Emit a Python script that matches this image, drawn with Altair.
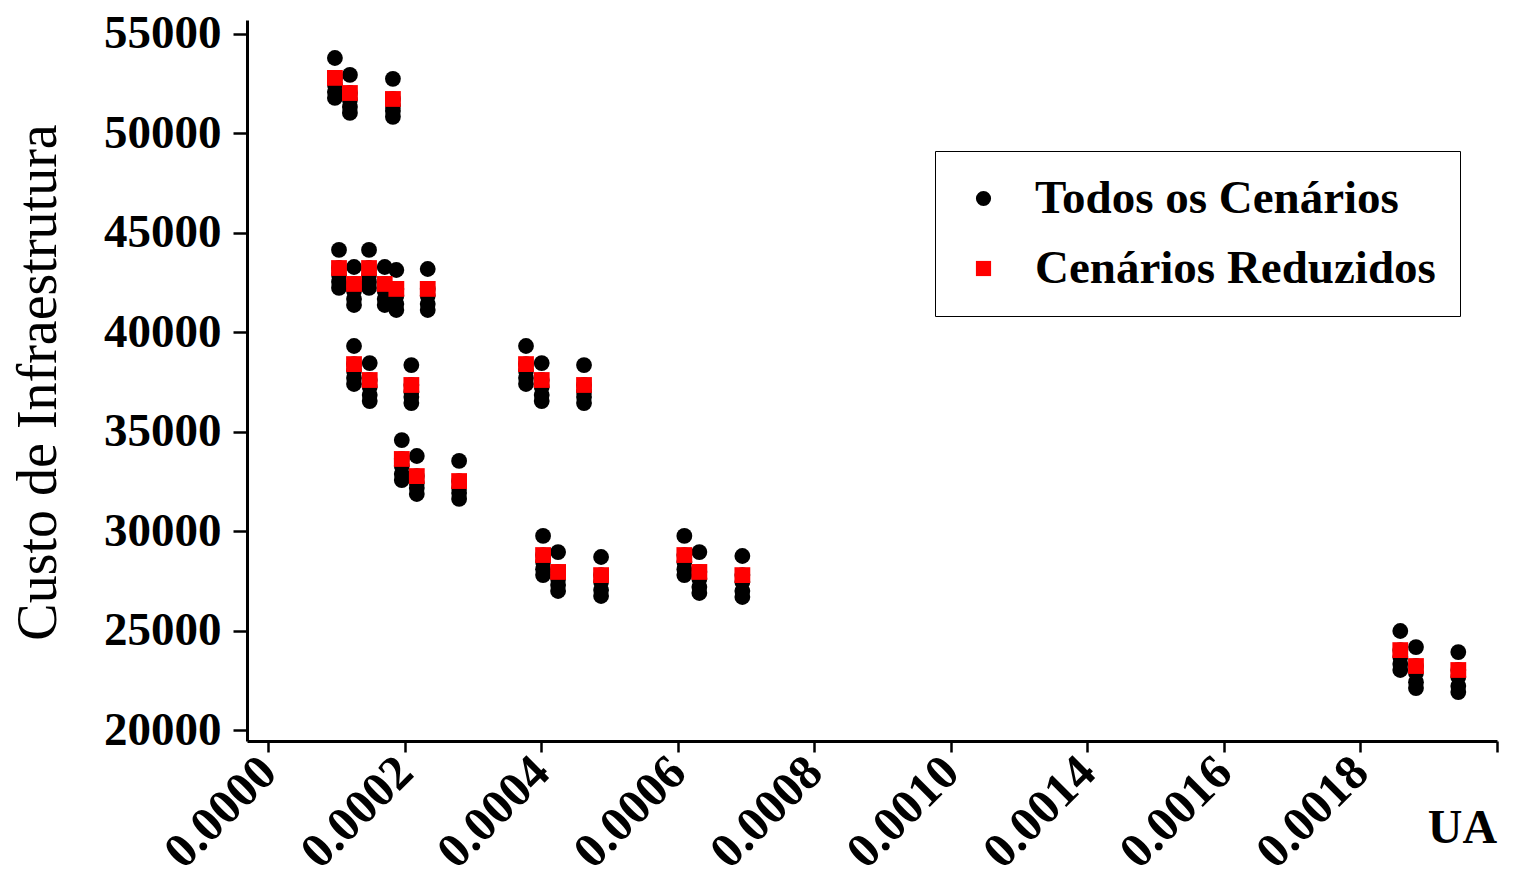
import altair as alt
import pandas as pd

SERIES = ["Todos os Cenários", "Cenários Reduzidos"]

# UA value of each cluster (actual axis value, axis has a break at 0.0012)
ua = [0.000098, 0.000120, 0.000183,
      0.000104, 0.000126, 0.000188,
      0.000148, 0.000171, 0.000234,
      0.000126, 0.000149, 0.000210,
      0.000196, 0.000218, 0.000280,
      0.000378, 0.000401, 0.000463,
      0.000403, 0.000425, 0.000488,
      0.000610, 0.000632, 0.000695,
      0.001859, 0.001882, 0.001944]

# infrastructure cost of the reduced scenario in each cluster (red squares)
reduzidos = [52790, 52030, 51730,
             43230, 42430, 42180,
             43230, 42430, 42180,
             38400, 37600, 37350,
             33630, 32770, 32520,
             38400, 37600, 37350,
             28800, 27950, 27790,
             28800, 27950, 27790,
             24020, 23220, 23020]

# infrastructure cost of all scenarios in each cluster (black dots)
todos = [[53790, 52790, 52440, 52080, 51780],
         [52940, 52030, 51680, 51330, 51030],
         [52740, 51730, 51380, 51130, 50830],
         [44140, 43230, 42880, 42530, 42230],
         [43280, 42430, 42080, 41670, 41370],
         [43130, 42180, 41830, 41420, 41120],
         [44140, 43230, 42880, 42530, 42230],
         [43280, 42430, 42080, 41670, 41370],
         [43180, 42180, 41830, 41420, 41120],
         [39310, 38400, 38050, 37700, 37400],
         [38450, 37600, 37250, 36840, 36540],
         [38350, 37350, 37000, 36740, 36440],
         [34580, 33630, 33280, 32870, 32570],
         [33780, 32770, 32420, 32170, 31870],
         [33530, 32520, 32170, 31920, 31620],
         [39310, 38400, 38050, 37700, 37400],
         [38450, 37600, 37250, 36840, 36540],
         [38350, 37350, 37000, 36740, 36440],
         [29760, 28800, 28450, 28090, 27790],
         [28950, 27950, 27600, 27290, 26990],
         [28700, 27790, 27440, 27040, 26740],
         [29760, 28800, 28450, 28090, 27790],
         [28950, 27950, 27600, 27190, 26890],
         [28750, 27790, 27440, 26990, 26690],
         [24980, 24020, 23670, 23320, 23020],
         [24170, 23220, 22870, 22410, 22110],
         [23920, 23020, 22670, 22210, 21910]]

x_ticks = [0.0, 0.0002, 0.0004, 0.0006, 0.0008, 0.0010, 0.0012, 0.0014, 0.0016, 0.0018]
y_ticks = [20000, 25000, 30000, 35000, 40000, 45000, 50000, 55000]

rows = []
for u, vals in zip(ua, todos):
    for v in vals:
        rows.append({"ua": u, "custo": v, "serie": SERIES[0], "ord": 0})
for u, v in zip(ua, reduzidos):
    rows.append({"ua": u, "custo": v, "serie": SERIES[1], "ord": 1})
df = pd.DataFrame(rows)

FONT = "Liberation Serif"

legend = alt.Legend(
    orient="none", legendX=688, legendY=131, title=None,
    strokeColor="black", fillColor="white",
    padding=24, symbolOffset=1, labelOffset=28, rowPadding=22,
    labelFont=FONT, labelFontWeight="bold", labelFontSize=47, labelColor="black",
    labelLimit=600, symbolSize=230, symbolStrokeWidth=0,
)

chart = alt.Chart(df).transform_calculate(
    xd="datum.ua > 0.0011 ? datum.ua - 0.0002 : datum.ua"
).mark_point(filled=True, opacity=1, size=250).encode(
    x=alt.X("xd:Q",
            scale=alt.Scale(domain=[-0.0000308, 0.0018007], nice=False, zero=False),
            axis=alt.Axis(values=x_ticks, title="UA",
                          labelExpr="datum.value > 0.00175 ? '' : format(datum.value > 0.0011 ? datum.value + 0.0002 : datum.value, '.4f')",
                          labelAngle=-45, labelAlign="right", labelBaseline="middle",
                          labelOverlap=False,
                          labelFont=FONT, labelFontWeight="bold", labelFontSize=49,
                          labelPadding=12, tickSize=11, tickWidth=2.5, tickColor="black",
                          domainWidth=3, domainColor="black", grid=False,
                          titleFont=FONT, titleFontWeight="bold", titleFontSize=48,
                          titleX=1215, titleY=87, titleAlign="center",
                          titleBaseline="middle", titleAngle=0)),
    y=alt.Y("custo:Q",
            scale=alt.Scale(domain=[19450, 55700], nice=False, zero=False),
            axis=alt.Axis(values=y_ticks, title="Custo de Infraestrutura", format="d",
                          labelOverlap=False,
                          labelFont=FONT, labelFontWeight="bold", labelFontSize=47,
                          labelPadding=12, tickSize=14, tickWidth=2.5, tickColor="black",
                          domainWidth=3, domainColor="black", grid=False,
                          titleFont=FONT, titleFontWeight="normal", titleFontSize=56,
                          titleX=-209, titleY=362, titleAlign="center",
                          titleBaseline="middle", titleAngle=-90)),
    color=alt.Color("serie:N", scale=alt.Scale(domain=SERIES, range=["black", "#ff0000"]),
                    legend=legend),
    shape=alt.Shape("serie:N", scale=alt.Scale(domain=SERIES, range=["circle", "square"]),
                    legend=legend),
    order=alt.Order("ord:Q"),
).properties(
    width=1250, height=721,
    padding={"left": 239, "top": 12, "right": 10, "bottom": 143},
    autosize=alt.AutoSizeParams(type="none"),
).configure_view(stroke=None)

chart.save("out.html", embed_options={"renderer": "svg", "actions": False})
